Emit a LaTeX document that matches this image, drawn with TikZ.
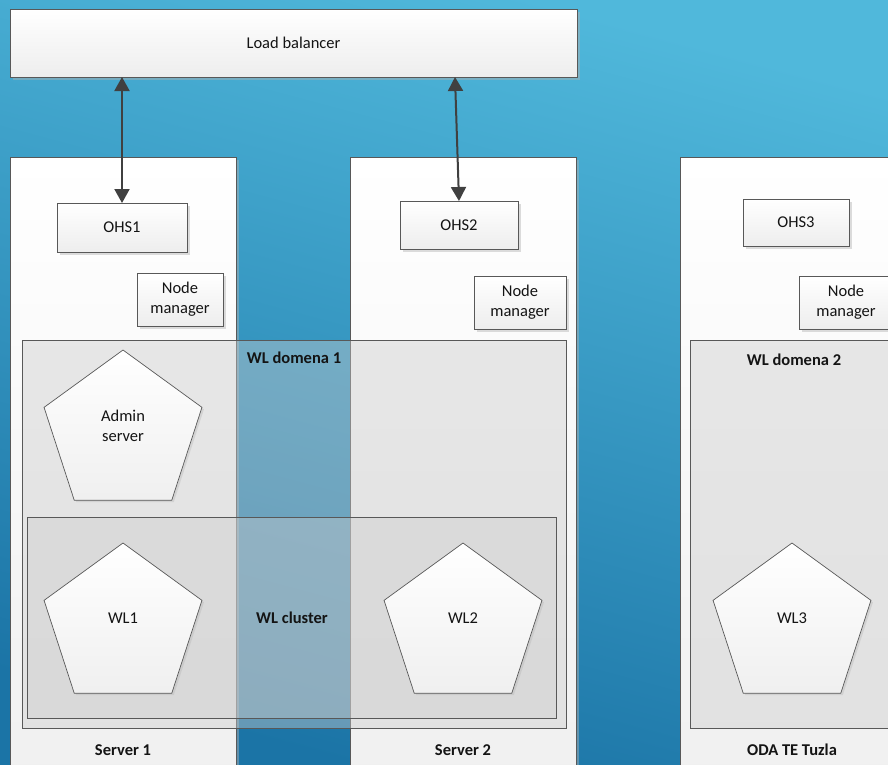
\documentclass[tikz,border=0pt]{standalone}
\usepackage{fontspec}
\setmainfont{Carlito}
\usetikzlibrary{shapes.geometric,shadows,arrows.meta,calc}
\definecolor{bgtop}{RGB}{80,184,219}
\definecolor{bgbot}{RGB}{27,116,166}
\definecolor{edgec}{RGB}{88,88,88}
\definecolor{arrowc}{RGB}{64,64,64}
\definecolor{txtc}{RGB}{20,20,20}
\begin{document}
\begin{tikzpicture}[x=1pt,y=-1pt,
  font=\fontsize{16.5}{20}\selectfont, text=txtc,
  box/.style={draw=edgec, line width=0.8pt, top color=white, bottom color=black!7,
    inner sep=0pt, outer sep=0pt, align=center, anchor=north west,
    drop shadow={shadow xshift=3pt, shadow yshift=-3pt, fill=black!30, opacity=0.45}},
  srv/.style={box, top color=white, bottom color=black!6},
  grp/.style={draw=edgec, line width=0.8pt, fill=black!20, fill opacity=0.42,
    inner sep=0pt, outer sep=0pt, anchor=north west},
  pent/.style={regular polygon, regular polygon sides=5, minimum size=166pt,
    draw=edgec, line width=0.7pt, top color=white, bottom color=black!6,
    inner sep=0pt, outer sep=0pt,
    drop shadow={shadow xshift=2pt, shadow yshift=-2pt, fill=black!30, opacity=0.35}},
  lbl/.style={inner sep=0pt, align=center},
  blbl/.style={inner sep=0pt, align=center, font=\fontsize{16.5}{20}\selectfont\bfseries},
  tip/.tip={Triangle[length=14pt 0 0,width=15pt 0 0]},
  arr/.style={tip-tip, draw=arrowc, line width=2pt}
]
\useasboundingbox (0,0) rectangle (888,764);
\clip (0,0) rectangle (888,764);
\shade[top color=bgtop, bottom color=bgbot, shading angle=-15] (0,0) rectangle (888,764);

% load balancer
\node[box, minimum width=567pt, minimum height=68pt] (lb) at (10,9) {Load balancer};

% servers
\node[srv, minimum width=226pt, minimum height=640pt] (s1) at (10,157) {};
\node[srv, minimum width=226pt, minimum height=640pt] (s2) at (350,157) {};
\node[srv, minimum width=226pt, minimum height=640pt] (s3) at (680,157) {};

% OHS
\node[box, minimum width=130pt, minimum height=49pt] (ohs1) at (57,203) {OHS1};
\node[box, minimum width=118pt, minimum height=48pt] (ohs2) at (400,201) {OHS2};
\node[box, minimum width=106pt, minimum height=47pt] (ohs3) at (743,199) {OHS3};

% node managers
\node[box, minimum width=86pt, minimum height=53pt] (nm1) at (137,273) {Node\\manager};
\node[box, minimum width=92pt, minimum height=53pt] (nm2) at (474,276) {Node\\manager};
\node[box, minimum width=94pt, minimum height=53pt] (nm3) at (799,276) {Node\\manager};

% domains and cluster
\node[grp, minimum width=544pt, minimum height=388pt] (dom1) at (22,340) {};
\node[grp, minimum width=208pt, minimum height=388pt] (dom2) at (690,340) {};
\node[grp, minimum width=529pt, minimum height=201pt, fill opacity=0.38] (cl) at (27,517) {};

\node[blbl] (dom1l) at (294,358) {WL domena 1};
\node[blbl] (dom2l) at (794,360) {WL domena 2};
\node[blbl] (cll) at (292,618) {WL cluster};

% pentagons
\node[pent] (adm) at (123,433) {};
\node[lbl] (admt) at (123,426) {Admin\\server};
\node[pent] (wl1) at (123,626) {};
\node[lbl] (wl1t) at (123,618) {WL1};
\node[pent] (wl2) at (463,626) {};
\node[lbl] (wl2t) at (463,618) {WL2};
\node[pent] (wl3) at (792,626) {};
\node[lbl] (wl3t) at (792,618) {WL3};

% server labels
\node[blbl] (s1l) at (123,750) {Server 1};
\node[blbl] (s2l) at (463,750) {Server 2};
\node[blbl] (s3l) at (792,750) {ODA TE Tuzla};

% arrows
\draw[arr] (lb.south -| ohs1.north) -- (ohs1.north);
\draw[arr] ($(lb.south -| ohs2.north)+(-4,0)$) -- (ohs2.north);
\end{tikzpicture}
\end{document}
